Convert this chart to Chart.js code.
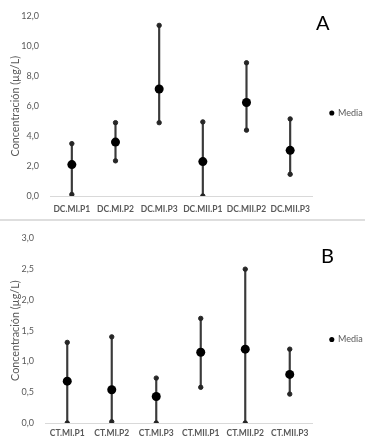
<!DOCTYPE html>
<html>
<head>
<meta charset="utf-8">
<script src="https://cdn.jsdelivr.net/npm/chart.js@4/dist/chart.umd.min.js"></script>
<style>
  html, body { margin: 0; padding: 0; background: #fff; }
  body { width: 365px; height: 444px; position: relative; overflow: hidden; font-family: Lato, sans-serif; }
  .panel { position: absolute; left: 0; width: 365px; }
  #pA { top: 0; height: 219px; }
  #pB { top: 222px; height: 222px; }
  .sep { position: absolute; left: 0; width: 365px; top: 219px; height: 2px; background: #dedede; }
  .tag { position: absolute; font: 20px Lato, sans-serif; color: #000; line-height: 1; }
</style>
</head>
<body>
<div class="panel" id="pA"><canvas id="chartA"></canvas></div>
<div class="sep"></div>
<div class="panel" id="pB"><canvas id="chartB"></canvas></div>
<div class="tag" style="left:316px;top:12px">A</div>
<div class="tag" style="left:321px;top:245px">B</div>
<script>
// ── panel A ──
const catsA = ["DC.MI.P1", "DC.MI.P2", "DC.MI.P3", "DC.MII.P1", "DC.MII.P2", "DC.MII.P3"];
const meanA = [2.1, 3.6, 7.15, 2.3, 6.25, 3.05];
const minA  = [0.1, 2.35, 4.9, 0, 4.4, 1.45];
const maxA  = [3.5, 4.9, 11.4, 4.95, 8.9, 5.15];
const yMaxA = 12, yStepA = 2;

// ── panel B ──
const catsB = ["CT.MI.P1", "CT.MI.P2", "CT.MI.P3", "CT.MII.P1", "CT.MII.P2", "CT.MII.P3"];
const meanB = [0.68, 0.54, 0.43, 1.15, 1.2, 0.79];
const minB  = [0, 0.02, 0, 0.58, 0, 0.47];
const maxB  = [1.31, 1.4, 0.73, 1.7, 2.5, 1.2];
const yMaxB = 3, yStepB = 0.5;

const yTitle = "Concentración (µg/L)";
const GREY = "#595959";
const INK  = "#262626";

function fmt(v) { return v.toFixed(1).replace(".", ","); }

function makeChart(id, cats, mean, lo, hi, yMax, step, box) {
  return new Chart(document.getElementById(id), {
    data: {
      labels: cats,
      datasets: [
        { type: "line", label: "Media", data: mean, showLine: false, borderWidth: 0,
          pointRadius: 4.5, pointHoverRadius: 4.5, pointBorderWidth: 0,
          backgroundColor: "#000", borderColor: "#000",
          pointBackgroundColor: "#000", pointBorderColor: "#000", order: 0 },
        { type: "line", label: "min", data: lo, showLine: false,
          pointRadius: 2.2, pointBackgroundColor: INK, pointBorderColor: INK, order: 1 },
        { type: "line", label: "max", data: hi, showLine: false,
          pointRadius: 2.2, pointBackgroundColor: INK, pointBorderColor: INK, order: 1 },
        { type: "bar", label: "rango", data: lo.map((v, i) => [v, hi[i]]),
          backgroundColor: "#3a3a3a", barThickness: 1.5, grouped: false, order: 2 }
      ]
    },
    options: {
      responsive: true,
      maintainAspectRatio: false,
      animation: false,
      layout: { padding: { top: box.top, right: 0, left: 0, bottom: 0 } },
      plugins: {
        tooltip: { enabled: false },
        legend: {
          position: "right",
          maxWidth: box.lw,
          labels: {
            filter: item => item.text === "Media",
            usePointStyle: true, pointStyle: "circle",
            boxWidth: 3.6, boxHeight: 3.6, padding: 18,
            color: GREY, font: { family: "Lato", size: 9 }
          }
        }
      },
      scales: {
        x: {
          offset: true,
          grid: { display: false, drawTicks: false },
          border: { display: true, color: "#d9d9d9", width: 1 },
          ticks: { color: GREY, font: { family: "Lato", size: 8.5, weight: "bold" }, padding: box.xp, maxRotation: 0, autoSkip: false },
          afterFit: s => { s.height = box.xh; }
        },
        y: {
          min: 0, max: yMax,
          grid: { display: false, drawTicks: false },
          border: { display: false },
          ticks: { stepSize: step, callback: v => fmt(v), color: GREY, padding: 11,
                   font: { family: "Lato", size: 9 } },
          title: { display: true, text: yTitle, color: GREY, padding: { top: 9, bottom: 0 },
                   font: { family: "Lato", size: 10.8 } },
          afterFit: s => { s.width = box.yw; }
        }
      }
    }
  });
}

makeChart("chartA", catsA, meanA, minA, maxA, yMaxA, yStepA, { top: 7, lw: 53, xh: 23, xp: 8, yw: 50 });
makeChart("chartB", catsB, meanB, minB, maxB, yMaxB, yStepB, { top: 13, lw: 53, xh: 21, xp: 5, yw: 45 });
</script>
</body>
</html>
